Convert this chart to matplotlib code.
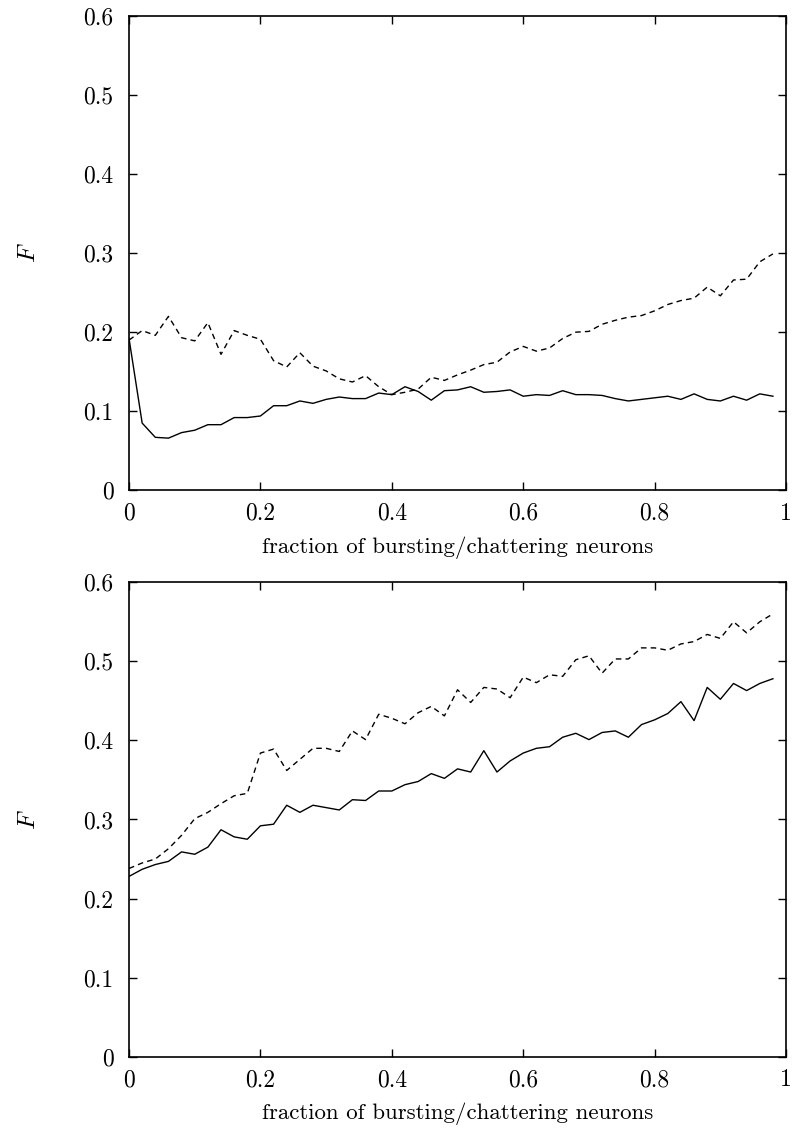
import matplotlib
matplotlib.use("Agg")
import matplotlib.pyplot as plt
import numpy as np

plt.rcParams['font.family'] = 'serif'
plt.rcParams['font.serif'] = ['cmr10']
plt.rcParams['mathtext.fontset'] = 'cm'
plt.rcParams['axes.formatter.use_mathtext'] = True

x = np.arange(50) * 0.02

top_solid = [0.192, 0.085, 0.067, 0.066, 0.073, 0.076, 0.083, 0.083, 0.092, 0.092,
             0.094, 0.107, 0.107, 0.113, 0.110, 0.115, 0.118, 0.116, 0.116, 0.123,
             0.121, 0.131, 0.125, 0.114, 0.126, 0.127, 0.131, 0.124, 0.125, 0.127,
             0.119, 0.121, 0.120, 0.126, 0.121, 0.121, 0.120, 0.116, 0.113, 0.115,
             0.117, 0.119, 0.115, 0.122, 0.115, 0.113, 0.119, 0.114, 0.122, 0.119]
top_dashed = [0.190, 0.202, 0.196, 0.220, 0.193, 0.189, 0.212, 0.172, 0.202, 0.196,
              0.191, 0.164, 0.156, 0.174, 0.157, 0.151, 0.141, 0.137, 0.145, 0.131,
              0.121, 0.124, 0.128, 0.143, 0.139, 0.146, 0.152, 0.159, 0.162, 0.175,
              0.182, 0.176, 0.180, 0.192, 0.200, 0.201, 0.210, 0.215, 0.219, 0.221,
              0.227, 0.235, 0.240, 0.243, 0.257, 0.246, 0.266, 0.267, 0.289, 0.299]
bot_solid = [0.228, 0.237, 0.243, 0.247, 0.259, 0.256, 0.265, 0.287, 0.278, 0.275,
             0.292, 0.294, 0.318, 0.309, 0.318, 0.315, 0.312, 0.325, 0.324, 0.336,
             0.336, 0.344, 0.348, 0.358, 0.352, 0.364, 0.360, 0.387, 0.360, 0.374,
             0.384, 0.390, 0.392, 0.404, 0.409, 0.401, 0.410, 0.412, 0.404, 0.420,
             0.426, 0.434, 0.449, 0.425, 0.467, 0.452, 0.472, 0.463, 0.472, 0.478]
bot_dashed = [0.238, 0.245, 0.250, 0.263, 0.280, 0.301, 0.309, 0.320, 0.330, 0.333,
              0.384, 0.389, 0.362, 0.376, 0.390, 0.390, 0.386, 0.412, 0.401, 0.433,
              0.428, 0.421, 0.435, 0.443, 0.431, 0.464, 0.448, 0.467, 0.465, 0.454,
              0.480, 0.473, 0.483, 0.481, 0.502, 0.507, 0.485, 0.503, 0.503, 0.517,
              0.517, 0.514, 0.522, 0.525, 0.534, 0.529, 0.550, 0.536, 0.550, 0.560]

xticks = [0, 0.2, 0.4, 0.6, 0.8, 1]
xticklabels = ['0', '0.2', '0.4', '0.6', '0.8', '1']
yticks = [0, 0.1, 0.2, 0.3, 0.4, 0.5, 0.6]
yticklabels = ['0', '0.1', '0.2', '0.3', '0.4', '0.5', '0.6']

fig = plt.figure(figsize=(7.94, 11.35), dpi=100)
ax1 = fig.add_axes([0.1625, 0.568, 0.8275, 0.418])
ax2 = fig.add_axes([0.1625, 0.069, 0.8275, 0.418])

for ax, s, d in [(ax1, top_solid, top_dashed), (ax2, bot_solid, bot_dashed)]:
    ax.plot(x, s, color='black', lw=1.0)
    ax.plot(x, d, color='black', lw=1.0, dashes=(4, 3))
    ax.set_xlim(0, 1)
    ax.set_ylim(0, 0.6)
    ax.set_xticks(xticks)
    ax.set_xticklabels(xticklabels)
    ax.set_yticks(yticks)
    ax.set_yticklabels(yticklabels)
    ax.tick_params(direction='in', top=True, right=True, length=6, width=1.0,
                   labelsize=17)
    ax.tick_params(axis='x', pad=9)
    ax.tick_params(axis='y', pad=11)
    for sp in ax.spines.values():
        sp.set_linewidth(1.2)
    ax.set_xlabel('fraction of bursting/chattering neurons', fontsize=16.5, labelpad=8)
    ax.set_ylabel('$F$', fontsize=18, rotation=90)
    ax.yaxis.set_label_coords(-0.135, 0.5)

fig.savefig('out.png', dpi=100)
